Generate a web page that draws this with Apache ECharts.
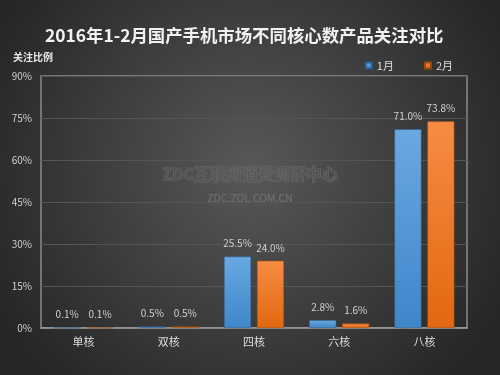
<!DOCTYPE html>
<html><head><meta charset="utf-8">
<script src="https://cdn.jsdelivr.net/npm/echarts@6/dist/echarts.min.js"></script>
<style>html,body{margin:0;padding:0;background:#333;}#c{width:500px;height:375px;}</style>
</head><body><div id="c"></div>
<script>
const categories = ['单核','双核','四核','六核','八核'];
const jan = [0.1, 0.5, 25.5, 2.8, 71.0];
const feb = [0.1, 0.5, 24.0, 1.6, 73.8];
const yTicks = [0, 15, 30, 45, 60, 75, 90];

const chart = echarts.init(document.getElementById('c'));
const font = '"Noto Sans CJK SC", "Noto Sans", sans-serif';
function grad(top, bottom){
  return new echarts.graphic.LinearGradient(0,0,0,1,[{offset:0,color:top},{offset:1,color:bottom}]);
}
chart.setOption({
  animation:false,
  backgroundColor:'#3a3a3a',
  graphic:[
    {type:'rect', z:-10, silent:true, shape:{x:0,y:0,width:500,height:375},
     style:{fill:new echarts.graphic.RadialGradient(0.5,0.45,0.75,[{offset:0,color:'#585858'},{offset:1,color:'#272727'}])}},
    {type:'text', z:10, left:'center', top:165, silent:true,
     style:{text:'ZDC互联网消费调研中心', font:'bold 16px '+font, fill:'rgba(85,85,85,0.6)', stroke:'rgba(115,115,115,0.7)', lineWidth:1}},
    {type:'text', z:10, left:'center', top:193, silent:true,
     style:{text:'ZDC.ZOL.COM.CN', font:'10.5px '+font, fill:'rgba(125,125,125,0.6)', stroke:'rgba(105,105,105,0.6)', lineWidth:0.5}},
    {type:'text', left:13, top:52, style:{text:'关注比例', font:'bold 10px '+font, fill:'#e8e8e8'}}
  ],
  title:{text:'2016年1-2月国产手机市场不同核心数产品关注对比', left:40, top:22,
    textStyle:{color:'#f2f2f2', fontSize:17.4, fontWeight:'bold', fontFamily:font}},
  legend:{top:55, right:42, itemWidth:6, itemHeight:6, itemGap:30, icon:'rect',
    textStyle:{color:'#dddddd', fontSize:11, fontFamily:font},
    data:['1月','2月']},
  grid:{left:41, right:33, top:76, bottom:47, show:true, borderColor:'#8a8a8a', borderWidth:1.5},
  xAxis:{type:'category', data:categories,
    axisLine:{lineStyle:{color:'#9a9a9a', width:1.5}}, axisTick:{show:false},
    axisLabel:{color:'#dddddd', fontSize:11, margin:8, fontFamily:font}},
  yAxis:{type:'value', min:0, max:90, interval:15,
    axisLine:{show:false}, axisTick:{show:false},
    splitLine:{lineStyle:{color:'#555555', width:1}},
    axisLabel:{color:'#d0d0d0', fontSize:10, margin:9, fontFamily:font, formatter:v=>v+'%'}},
  series:[
    {name:'1月', type:'bar', data:jan, barWidth:27, barGap:'22%',
     itemStyle:{color:grad('#6aa9e2','#3f86c9'), borderColor:'#2f5f8f', borderWidth:0.5},
     label:{show:true, position:'top', distance:8, color:'#d0d0d0', fontSize:10, fontFamily:font, formatter:p=>p.value.toFixed(1)+'%'}},
    {name:'2月', type:'bar', data:feb, barWidth:27,
     itemStyle:{color:grad('#f68c44','#e2680f'), borderColor:'#9a4a10', borderWidth:0.5},
     label:{show:true, position:'top', distance:8, color:'#d0d0d0', fontSize:10, fontFamily:font, formatter:p=>p.value.toFixed(1)+'%'}}
  ],
  color:['#5b9bd5','#ed7d31']
});
</script></body></html>
